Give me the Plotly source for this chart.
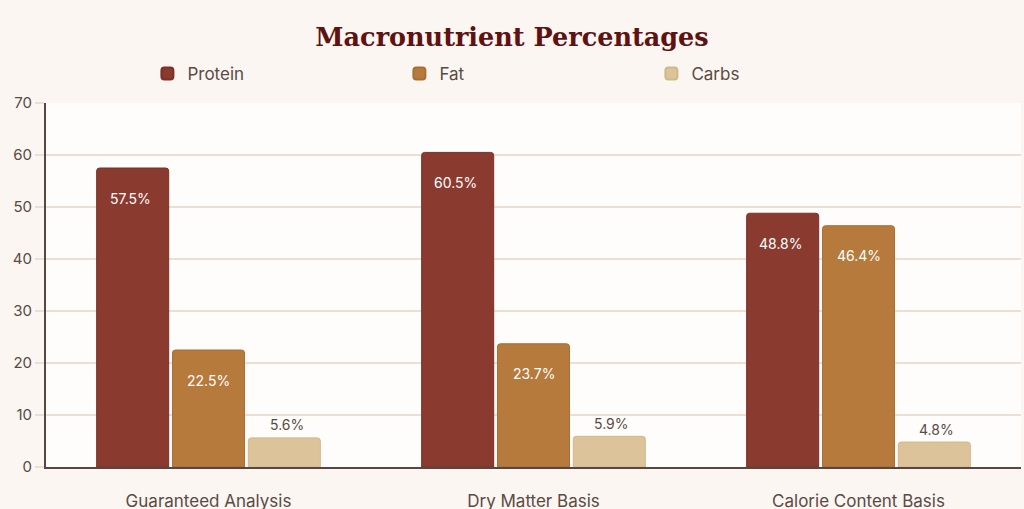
import plotly.graph_objects as go

# dane
kategorie = ["Guaranteed Analysis", "Dry Matter Basis", "Calorie Content Basis"]
protein = [57.5, 60.5, 48.8]
fat = [22.5, 23.7, 46.4]
carbs = [5.6, 5.9, 4.8]

serie = [
    ("Protein", protein, "#8b3a2f", "#7a3128"),
    ("Fat", fat, "#b57a3c", "#a86f35"),
    ("Carbs", carbs, "#dcc39a", "#d2b78c"),
]

fig = go.Figure()

for nazwa, wartosci, kolor, obrys in serie:
    fig.add_trace(
        go.Bar(
            x=kategorie,
            y=wartosci,
            name=nazwa,
            marker=dict(color=kolor, line=dict(color=obrys, width=1), cornerradius=3),
            offsetgroup=nazwa,
        )
    )

# etykiety wartości: wewnątrz dużych słupków, nad małymi
for i, (nazwa, wartosci, kolor, obrys) in enumerate(serie):
    for k, v in zip(kategorie, wartosci):
        wewnatrz = v > 15
        fig.add_annotation(
            x=k,
            y=v,
            xref="x",
            yref="y",
            text=f"{v}%",
            showarrow=False,
            xshift=(i - 1) * 78,
            yshift=-30 if wewnatrz else 13,
            font=dict(family="Inter", size=14, color="#ffffff" if wewnatrz else "#5a4a44"),
        )

fig.update_layout(
    width=1024,
    height=509,
    paper_bgcolor="#fbf6f2",
    plot_bgcolor="#fffdfb",
    margin=dict(l=46, r=3, t=103, b=42),
    barmode="group",
    bargap=0.3,
    bargroupgap=0.05,
    title=dict(
        text="<b>Macronutrient Percentages</b>",
        x=0.5,
        xanchor="center",
        y=0.927,
        yanchor="middle",
        font=dict(family="DejaVu Serif", size=25.5, color="#5e1212"),
    ),
    legend=dict(
        orientation="h",
        x=0.104,
        xanchor="left",
        y=1.08,
        yanchor="middle",
        entrywidth=207,
        entrywidthmode="pixels",
        font=dict(family="Inter", size=17, color="#5a4a44"),
        itemsizing="constant",
    ),
    font=dict(family="Inter", color="#5a4a44"),
)

fig.update_yaxes(
    range=[0, 70],
    dtick=10,
    showgrid=True,
    gridcolor="#ecdfd2",
    gridwidth=2,
    ticks="outside",
    ticklen=9,
    tickcolor="#ecdfd2",
    tickwidth=2,
    showline=True,
    linecolor="#5a4540",
    linewidth=2,
    zeroline=False,
    automargin=False,
    tickfont=dict(family="Inter", size=15, color="#5a4a44"),
)

fig.update_xaxes(
    showline=True,
    linecolor="#5a4540",
    linewidth=2,
    ticks="",
    ticklabelstandoff=18,
    automargin=False,
    tickfont=dict(family="Inter", size=17, color="#5a4a44"),
)

fig.write_html(
    "out.html",
    config={"displayModeBar": False},
    post_script="document.body.style.margin='0';",
)
